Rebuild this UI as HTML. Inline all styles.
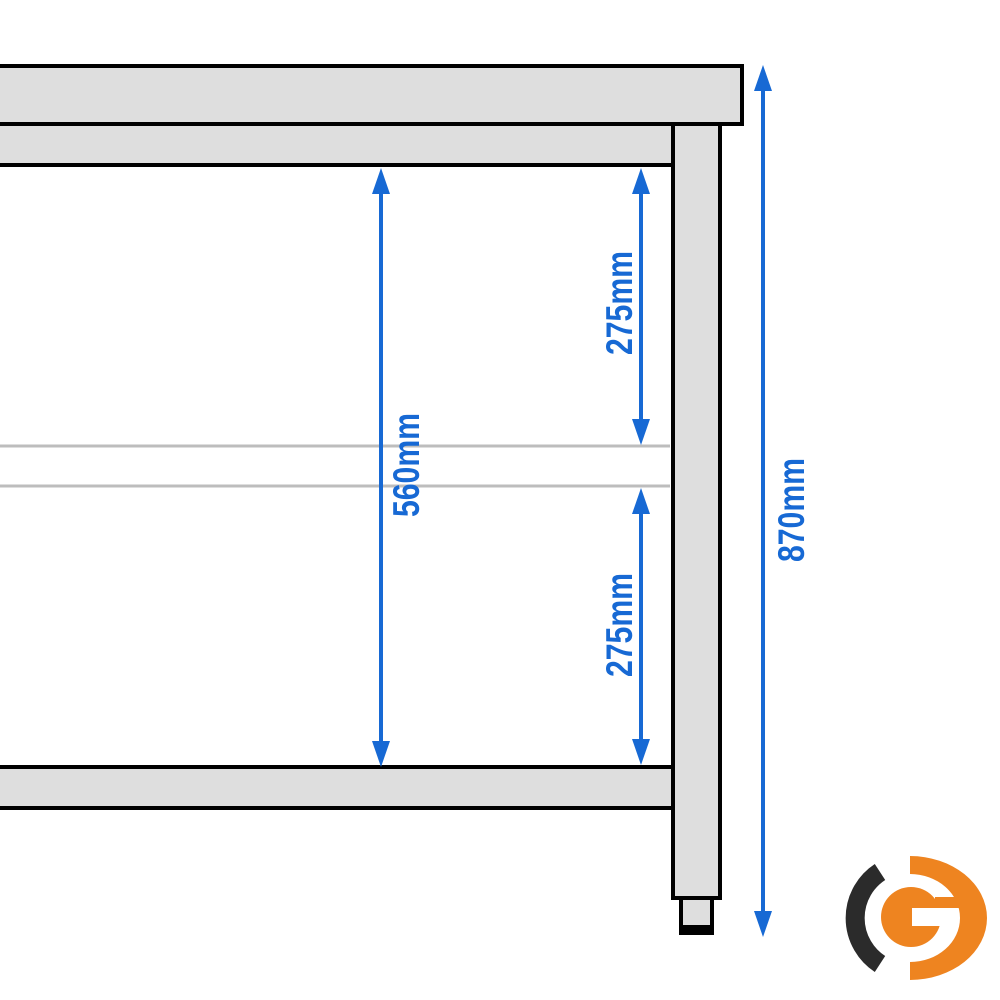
<!DOCTYPE html>
<html><head><style>html,body{margin:0;padding:0;background:#fff}svg{display:block}</style></head>
<body>
<svg width="1000" height="1000" viewBox="0 0 1000 1000" xmlns="http://www.w3.org/2000/svg">
<g stroke="#000" stroke-width="4" fill="#dedede">
<rect x="-5" y="66" width="747" height="58"/>
<rect x="-5" y="124" width="678" height="41"/>
<rect x="673" y="124" width="47" height="774"/>
<rect x="-5" y="767" width="678" height="41"/>
<rect x="681" y="898" width="31" height="35"/>
</g>
<rect x="681" y="925" width="31" height="10" fill="#000"/>
<g stroke="#bdbdbd" stroke-width="3">
<line x1="0" y1="446" x2="670" y2="446"/>
<line x1="0" y1="486" x2="670" y2="486"/>
</g>
<g stroke="#1769d4" stroke-width="4">
<line x1="381" y1="185" x2="381" y2="750"/>
<line x1="641" y1="185" x2="641" y2="428"/>
<line x1="641" y1="505" x2="641" y2="748"/>
<line x1="763" y1="82" x2="763" y2="920"/>
</g>
<g fill="#1769d4">
<polygon points="381,168 372,194 390,194"/>
<polygon points="381,767 372,741 390,741"/>
<polygon points="641,168 632,194 650,194"/>
<polygon points="641,445 632,419 650,419"/>
<polygon points="641,488 632,514 650,514"/>
<polygon points="641,765 632,739 650,739"/>
<polygon points="763,65 754,91 772,91"/>
<polygon points="763,937 754,911 772,911"/>
</g>
<g fill="#1769d4" font-family="'Liberation Sans',sans-serif" font-weight="bold" font-size="37">
<text transform="translate(419,517) rotate(-90)" textLength="104" lengthAdjust="spacingAndGlyphs">560mm</text>
<text transform="translate(632,355) rotate(-90)" textLength="104" lengthAdjust="spacingAndGlyphs">275mm</text>
<text transform="translate(632,677) rotate(-90)" textLength="104" lengthAdjust="spacingAndGlyphs">275mm</text>
<text transform="translate(804,562) rotate(-90)" textLength="104" lengthAdjust="spacingAndGlyphs">870mm</text>
</g>
<path d="M880,872 A55,55 0 0 0 880,964" fill="none" stroke="#2b2b2b" stroke-width="19"/>
<path d="M910,856 A77,62 0 0 1 910,980 L910,962 A50,44 0 0 0 910,874 Z" fill="#ee8420"/>
<circle cx="911" cy="917" r="30" fill="#ee8420"/>
<rect x="912" y="908" width="34" height="18" fill="#fff"/>
<rect x="935" y="897" width="26" height="11" fill="#ee8420"/>
</svg>
</body></html>
